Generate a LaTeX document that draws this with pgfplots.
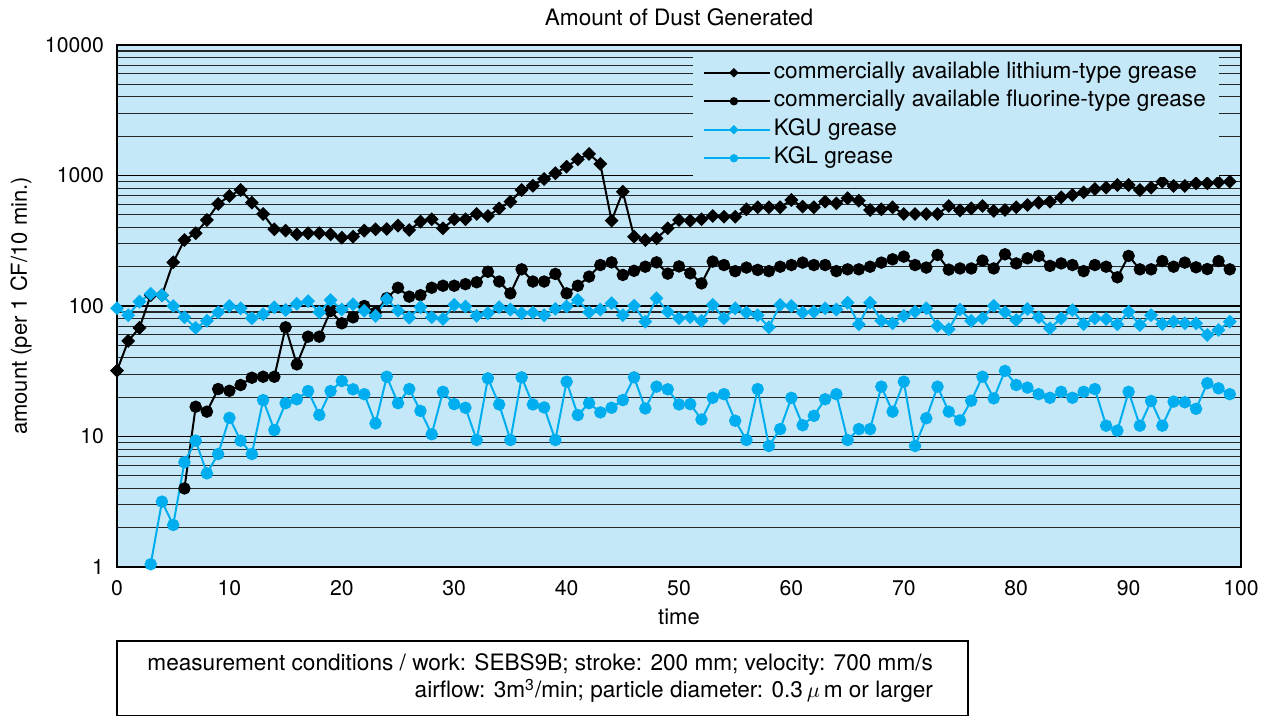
\documentclass[border=0pt]{standalone}
\usepackage{pgfplots}
\pgfplotsset{compat=1.18}
\usepackage{fontspec}
\setmainfont{TeX Gyre Heros}
\definecolor{bgblue}{RGB}{197,232,248}
\definecolor{kblue}{RGB}{0,174,239}
\begin{document}
\begin{tikzpicture}
\useasboundingbox (-58.5pt,-75pt) rectangle (578pt,283.5pt);
\begin{axis}[
  at={(0,0)}, anchor=south west,
  scale only axis, width=562pt, height=261pt,
  xmin=0, xmax=100, ymin=1, ymax=10000,
  ymode=log,
  xtick={0,10,...,100},
  xticklabels={0,10,20,30,40,50,60,70,80,90,100},
  ytick={1,10,100,1000,10000},
  yticklabels={1,10,100,1000,10000},
  minor ytick={2,3,4,5,6,7,8,9,20,30,40,50,60,70,80,90,200,300,400,500,600,700,800,900,2000,3000,4000,5000,6000,7000,8000,9000},
  log basis y=10,
  major tick length=0pt, minor tick length=0pt,
  ymajorgrids, yminorgrids,
  grid style={black, line width=0.6pt},
  minor grid style={black!85, line width=0.55pt},
  axis background/.style={fill=bgblue},
  axis line style={black, line width=1.2pt},
  ticklabel style={font=\fontsize{10.6}{12}\selectfont},
  yticklabel style={xshift=-3pt},
  xticklabel style={yshift=-3pt},
  /pgf/number format/assume math mode=true,
  clip=false,
  legend cell align=left,
  legend style={at={(0.512,0.983)}, anchor=north west, fill=bgblue, draw=none,
    font=\fontsize{11.3}{13}\selectfont,
    nodes={text height=8pt, text depth=2.5pt, inner sep=1.5pt},
    row sep=0.75pt, inner xsep=5pt, inner ysep=2.5pt},
  legend image code/.code={\draw[mark repeat=2,mark phase=2,#1,/tikz/every mark/.append style={scale=0.6}] plot coordinates {(0pt,0pt) (15pt,0pt) (30pt,0pt)};\path (0pt,0pt) -- (33pt,0pt);},
]
\addplot[black, line width=1pt, mark=square*, mark size=1.95pt, mark options={rotate=45, fill=black}] coordinates {
(0,32) (1,54) (2,68) (3,121) (4,121) (5,216) (6,320) (7,361) (8,456) (9,605)
(10,697) (11,774) (12,619) (13,507) (14,387) (15,378) (16,354) (17,361) (18,361) (19,354)
(20,334) (21,340) (22,378) (23,387) (24,389) (25,413) (26,382) (27,443) (28,462) (29,394)
(30,462) (31,462) (32,507) (33,489) (34,560) (35,630) (36,774) (37,835) (38,940) (39,1040)
(40,1168) (41,1331) (42,1462) (43,1225) (44,451) (45,751) (46,340) (47,320) (48,330) (49,394)
(50,456) (51,451) (52,462) (53,489) (54,483) (55,483) (56,551) (57,571) (58,571) (59,571)
(60,649) (61,577) (62,571) (63,630) (64,612) (65,669) (66,641) (67,544) (68,551) (69,571)
(70,507) (71,507) (72,507) (73,507) (74,584) (75,540) (76,560) (77,584) (78,535) (79,544)
(80,571) (81,594) (82,619) (83,630) (84,681) (85,709) (86,743) (87,788) (88,807) (89,846)
(90,846) (91,774) (92,807) (93,897) (94,831) (95,831) (96,871) (97,871) (98,887) (99,897)
};
\addlegendentry{commercially available lithium-type grease}
\addplot[black, line width=1pt, mark=*, mark size=2.6pt, mark options={fill=black}] coordinates {
(6,4.0) (7,16.9) (8,15.5) (9,23.1)
(10,22.4) (11,24.8) (12,28.2) (13,28.7) (14,28.7) (15,68.7) (16,35.7) (17,58.2) (18,58.2) (19,91.6)
(20,73.7) (21,81.9) (22,100) (23,88.9) (24,115) (25,138) (26,118) (27,121) (28,138) (29,143)
(30,143) (31,147) (32,152) (33,183) (34,154) (35,125) (36,191) (37,154) (38,154) (39,176)
(40,125) (41,143) (42,168) (43,206) (44,216) (45,173) (46,186) (47,200) (48,216) (49,177)
(50,201) (51,178) (52,149) (53,219) (54,206) (55,185) (56,197) (57,189) (58,185) (59,200)
(60,206) (61,215) (62,206) (63,206) (64,185) (65,191) (66,191) (67,200) (68,215) (69,228)
(70,239) (71,206) (72,197) (73,246) (74,190) (75,194) (76,194) (77,223) (78,194) (79,249)
(80,212) (81,232) (82,242) (83,203) (84,212) (85,206) (86,185) (87,206) (88,200) (89,166)
(90,242) (91,191) (92,191) (93,221) (94,200) (95,215) (96,198) (97,192) (98,221) (99,191)
};
\addlegendentry{commercially available fluorine-type grease}
\addplot[kblue, line width=1pt, mark=square*, mark size=1.95pt, mark options={rotate=45, fill=kblue}] coordinates {
(0,96) (1,85) (2,108) (3,124) (4,121) (5,100) (6,82) (7,68) (8,77) (9,89.5)
(10,100) (11,96) (12,80.5) (13,86.4) (14,97.7) (15,93.2) (16,104) (17,109) (18,89.5) (19,111)
(20,94) (21,103) (22,92) (23,84) (24,113) (25,92) (26,81.4) (27,98) (28,82) (29,79.5)
(30,102) (31,99) (32,84) (33,88) (34,98) (35,94) (36,88) (37,89) (38,85) (39,95)
(40,99) (41,111) (42,89.5) (43,94) (44,105) (45,85) (46,100.5) (47,75.8) (48,114.6) (49,90.4)
(50,80.5) (51,82) (52,77) (53,102) (54,80.5) (55,96) (56,89) (57,85) (58,68.7) (59,102)
(60,100) (61,89) (62,90.4) (63,96) (64,94) (65,106) (66,72.4) (67,106) (68,77) (69,73.7)
(70,84) (71,90.4) (72,96) (73,70.3) (74,66.3) (75,94) (76,77) (77,80.5) (78,100.5) (79,89.5)
(80,78) (81,95) (82,82) (83,67.5) (84,80.5) (85,93) (86,72.8) (87,80.5) (88,79.5) (89,72.4)
(90,90.4) (91,71.5) (92,85) (93,72.8) (94,75.8) (95,73.7) (96,73.7) (97,60) (98,65.5) (99,75.8)
};
\addlegendentry{KGU grease}
\addplot[kblue, line width=1pt, mark=*, mark size=2.6pt, mark options={fill=kblue}] coordinates {
(3,1.05) (4,3.17) (5,2.10) (6,6.34) (7,9.29) (8,5.22) (9,7.34)
(10,13.9) (11,9.29) (12,7.34) (13,19.0) (14,11.2) (15,18.0) (16,19.3) (17,22.3) (18,14.6) (19,22.3)
(20,26.6) (21,23.0) (22,21.1) (23,12.6) (24,28.7) (25,18.0) (26,23.1) (27,15.7) (28,10.4) (29,22.0)
(30,17.7) (31,16.6) (32,9.4) (33,27.9) (34,17.6) (35,9.4) (36,28.4) (37,17.6) (38,16.7) (39,9.4)
(40,26.3) (41,14.6) (42,18.0) (43,15.3) (44,16.6) (45,19.0) (46,28.4) (47,16.4) (48,24.1) (49,23.0)
(50,17.6) (51,17.7) (52,13.5) (53,19.8) (54,21.1) (55,13.2) (56,9.4) (57,23.1) (58,8.46) (59,11.4)
(60,19.8) (61,12.2) (62,14.4) (63,19.3) (64,21.1) (65,9.4) (66,11.4) (67,11.4) (68,24.1) (69,15.5)
(70,26.3) (71,8.46) (72,13.8) (73,24.1) (74,15.5) (75,13.3) (76,18.8) (77,28.7) (78,19.6) (79,31.8)
(80,24.8) (81,23.7) (82,21.1) (83,19.8) (84,22.0) (85,19.8) (86,22.0) (87,23.1) (88,12.1) (89,11.1)
(90,22.0) (91,12.1) (92,18.7) (93,12.1) (94,18.5) (95,18.3) (96,16.3) (97,25.6) (98,23.4) (99,21.1)
};
\addlegendentry{KGL grease}
\end{axis}
\node[font=\fontsize{11.3}{13}\selectfont] at (281pt,275pt) {Amount of Dust Generated};
\node[font=\fontsize{11}{13}\selectfont] at (281pt,-25pt) {time};
\node[font=\fontsize{11}{13}\selectfont, rotate=90] at (-48pt,130.5pt) {amount (per 1 CF/10 min.)};
\draw[black, line width=0.6pt] (0pt,-37pt) rectangle (425.5pt,-74.2pt);
\node[font=\fontsize{11.3}{13.5}\selectfont, align=right, anchor=east] at (411.5pt,-55.75pt)
  {measurement conditions / work: SEBS9B; stroke: 200 mm; velocity: 700 mm/s\\
   airflow: 3m\textsuperscript{3}/min; particle diameter: 0.3\,$\mu$\,m or larger};
\end{tikzpicture}
\end{document}
